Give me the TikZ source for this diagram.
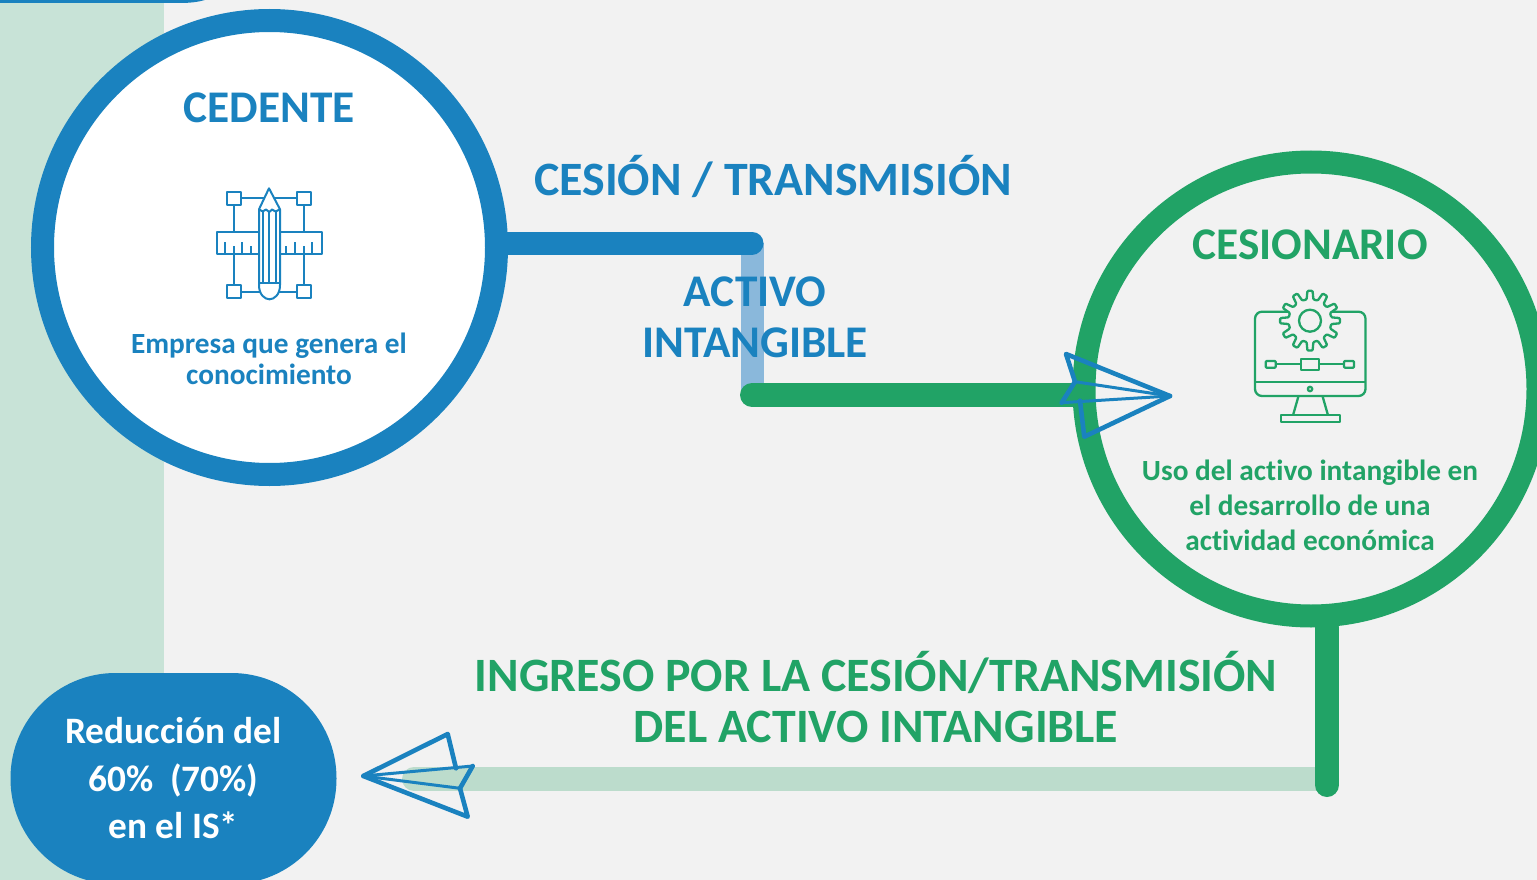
\documentclass[tikz,border=0pt]{standalone}
\usepackage{fontspec}
\setmainfont{Carlito}[Ligatures=NoCommon,Contextuals=NoAlternate]
\definecolor{cblue}{HTML}{1A82BF}
\definecolor{cgreen}{HTML}{21A366}
\definecolor{cbg}{HTML}{F2F2F2}
\definecolor{cband}{HTML}{C8E3D7}
\definecolor{clblue}{HTML}{8AB8DB}
\definecolor{clgreen}{HTML}{BCDCCC}
\tikzset{
  ring/.style={circle,draw=#1,line width=23pt,minimum size=454pt,inner sep=0pt},
  conn/.style={line width=#1,line cap=round},
  bigtxt/.style={font=\fontsize{45.3}{51}\selectfont\bfseries,align=center,inner sep=0pt},
  widetxt/.style={font=\fontsize{47.9}{51}\selectfont\bfseries,align=center,inner sep=0pt},
  subtxt/.style={font=\fontsize{29.3}{#1}\selectfont\bfseries,align=center,inner sep=0pt},
  bluelbl/.style={text=cblue},
  greenlbl/.style={text=cgreen},
  iconb/.style={draw=cblue,line width=2pt,line join=round},
  icong/.style={draw=cgreen,line width=2.3pt,line join=round},
  plane/.style={draw=cblue,line width=4.6pt,line join=round,line cap=round},
  planethin/.style={draw=cblue,line width=3pt,line join=round,line cap=round},
}
\begin{document}
\begin{tikzpicture}[x=1pt,y=-1pt]
\clip (0,0) rectangle (1537,880);
\fill[cbg] (0,0) rectangle (1537,880);
\fill[cband] (0,0) rectangle (164,880);
\fill[cblue] (0,0) -- (205,0) .. controls (198,2) and (190,3) .. (180,3) -- (0,3) -- cycle;

% circles
\node[ring=cblue,fill=white] (cedente) at (269.5,247.5) {};
\node[ring=cgreen,fill=cbg] (cesionario) at (1311,389) {};

% connector corners
\coordinate (c1) at (752,243);
\coordinate (c2) at (752,395);
\coordinate (c3) at (1327,779);
\coordinate (c4) at (414,779);
\coordinate (c5) at (1327,785);

\draw[line width=23pt,clblue] (c1) -- (c2);
\draw[conn=23pt,cblue] (c1 -| cedente.east) -- (c1);
\draw[conn=24pt,cgreen] (c2) -- (c2 -| cesionario.west);
\draw[conn=24pt,clgreen] (c3) -- (c4);
\draw[conn=24pt,cgreen] (c5 |- cesionario.south) -- (c5);

% result pill
\node[fill=cblue,rounded corners=105pt,minimum width=326pt,minimum height=211pt,inner sep=0pt,
      text=white,font=\fontsize{37.3}{47.5}\selectfont\bfseries,align=center] (result) at (173.5,778.5)
  {Reducción del\\60\%\ \ (70\%)\\en el IS*};

% labels
\node[bigtxt,bluelbl] (tcedente) at (269,108) {CEDENTE};
\node[subtxt=31,bluelbl] (tcedsub) at (269,359) {Empresa que genera el\\conocimiento};
\node[widetxt,bluelbl] (tcesion) at (773,176) {CESIÓN / TRANSMISIÓN};
\node[bigtxt,bluelbl] (tactivo) at (755,317) {ACTIVO\\INTANGIBLE};
\node[bigtxt,greenlbl] (tcesionario) at (1310,245) {CESIONARIO};
\node[subtxt=35,greenlbl] (tcessub) at (1310,505.5) {Uso del activo intangible en\\el desarrollo de una\\actividad económica};
\node[widetxt,greenlbl] (tingreso) at (876,697) {INGRESO POR LA CESIÓN/TRANSMISIÓN\\DEL ACTIVO INTANGIBLE};

% right paper plane
\draw[plane] (1170,396) -- (1066,354) -- (1075,381.7);
\draw[planethin] (1075,381.7) -- (1170,396);
\draw[plane] (1075,381.7) -- (1061.7,402.7);
\draw[planethin] (1061.7,402.7) -- (1170,396);
\draw[plane] (1080,400.7) -- (1084.3,436.7) -- (1170,396);

% left paper plane
\draw[plane] (456,768.3) -- (447.7,734) -- (363.3,776);
\draw[planethin] (363.3,776) -- (472.7,766);
\draw[plane] (472.7,766) -- (460,788.3);
\draw[planethin] (460,788.3) -- (363.3,776);
\draw[plane] (460,788.3) -- (467.7,816.7) -- (363.3,776);

% pencil and ruler icon
\draw[iconb] (240.7,198) -- (297.3,198);
\draw[iconb] (233.7,205) -- (233.7,285) (304,205) -- (304,285);
\draw[iconb] (240.7,291.7) -- (297.3,291.7);
\draw[iconb,fill=white] (226.7,191.7) rectangle (240.7,205);
\draw[iconb,fill=white] (297.3,191.7) rectangle (310.7,205);
\draw[iconb,fill=white] (226.7,285) rectangle (240.7,298.3);
\draw[iconb,fill=white] (297.3,285) rectangle (310.7,298.3);
\draw[iconb,fill=white] (216.7,231.7) rectangle (321.7,254);
\foreach \tx/\ty in {225/241.5,233.7/246,242.3/241.5,251/246,286.3/246,295/241.5,303.7/246,312.3/241.5}
  \draw[iconb] (\tx,254) -- (\tx,\ty);
\draw[iconb,fill=white] (259,209.3) -- (269,188.3) -- (280,209.3) -- (280,285)
  .. controls (280,295) and (274,299.3) .. (269.5,299.3)
  .. controls (265,299.3) and (259,295) .. (259,285) -- cycle;
\draw[iconb] (259,209.3) -- (262.7,211.5) -- (266,209.5) -- (269.3,212) -- (272,209.5) -- (275.5,211.5) -- (280,209.3);
\draw[iconb] (262.7,211.5) -- (262.7,283.3) (269.3,212) -- (269.3,283.3) (275.5,211.5) -- (275.5,283.3);
\draw[iconb] (259,283.3) -- (280,283.3);

% monitor icon
\draw[icong,rounded corners=7pt] (1255,311.7) rectangle (1365.5,396);
\draw[icong] (1255,381.7) -- (1365.5,381.7);
\draw[icong] (1310,389) circle (2.2pt);
\draw[icong] (1298.3,396.7) -- (1293.3,414.3) (1322.7,396.7) -- (1327.7,414.3);
\draw[icong] (1280.7,415) rectangle (1340,422.3);
\draw[icong,rounded corners=1pt] (1265.7,361) rectangle (1275.7,367.7);
\draw[icong] (1301,358.7) rectangle (1319.3,370);
\draw[icong,rounded corners=1pt] (1344,361) rectangle (1354,367.7);
\draw[icong] (1275.7,364.3) -- (1301,364.3) (1319.3,364.3) -- (1344,364.3);
\begin{scope}[shift={(1310,320.7)}]
  \draw[icong,fill=cbg,rounded corners=1pt] (-9:21.5)
    \foreach \a in {0,30,...,330}{ -- ({\a-9}:21.5) -- ({\a-5}:30) -- ({\a+5}:30) -- ({\a+9}:21.5) } -- cycle;
  \draw[icong] (0,0) circle (11pt);
\end{scope}
\end{tikzpicture}
\end{document}
